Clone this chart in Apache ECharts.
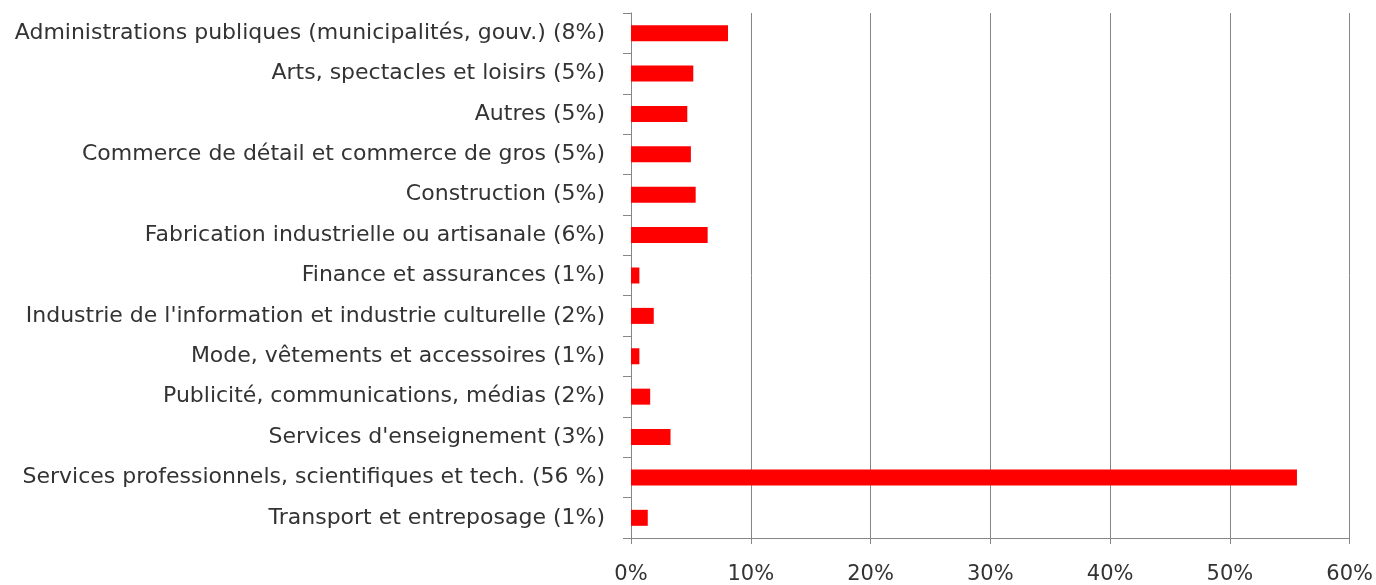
<!DOCTYPE html>
<html>
<head>
<meta charset="utf-8">
<script src="https://cdn.jsdelivr.net/npm/echarts@6/dist/echarts.min.js"></script>
<style>
  html, body { margin: 0; padding: 0; background: #fff; }
  #main { width: 1376px; height: 585px; }
</style>
</head>
<body>
<div id="main"></div>
<script>
var categories = [
  'Administrations publiques (municipalités, gouv.) (8%)',
  'Arts, spectacles et loisirs (5%)',
  'Autres (5%)',
  'Commerce de détail et commerce de gros (5%)',
  'Construction (5%)',
  'Fabrication industrielle ou artisanale (6%)',
  'Finance et assurances (1%)',
  "Industrie de l'information et industrie culturelle (2%)",
  'Mode, vêtements et accessoires (1%)',
  'Publicité, communications, médias (2%)',
  "Services d'enseignement (3%)",
  'Services professionnels, scientifiques et tech. (56 %)',
  'Transport et entreposage (1%)'
];
var values = [8.1, 5.2, 4.7, 5.0, 5.4, 6.4, 0.7, 1.9, 0.7, 1.6, 3.3, 55.6, 1.4];

var chartDom = document.getElementById('main');
var myChart = echarts.init(chartDom);
var option;

option = {
  animation: false,
  grid: {
    left: 631,
    right: 25,
    top: 13,
    bottom: 47
  },
  xAxis: {
    type: 'value',
    min: 0,
    max: 60,
    interval: 10,
    axisLine: { show: true, lineStyle: { color: '#868686' } },
    axisTick: { show: true, length: 6, lineStyle: { color: '#868686' } },
    splitLine: { show: true, lineStyle: { color: '#868686' } },
    axisLabel: {
      formatter: '{value}%',
      color: '#333',
      fontFamily: 'DejaVu Sans',
      fontSize: 21,
      margin: 26
    }
  },
  yAxis: {
    type: 'category',
    inverse: true,
    data: categories,
    axisLine: { show: true, lineStyle: { color: '#868686' } },
    axisTick: { show: true, length: 8, lineStyle: { color: '#868686' } },
    axisLabel: {
      color: '#333',
      fontFamily: 'DejaVu Sans',
      fontSize: 22,
      margin: 26
    }
  },
  series: [
    {
      type: 'bar',
      data: values,
      barWidth: 16,
      itemStyle: { color: '#ff0000' }
    }
  ]
};

option && myChart.setOption(option);
</script>
</body>
</html>
